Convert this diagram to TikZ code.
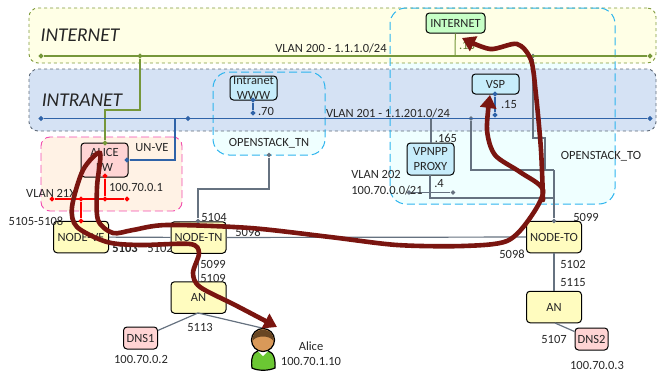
\documentclass[tikz,border=0pt]{standalone}
\usepackage{fontspec}
\setmainfont{Carlito}
\usetikzlibrary{arrows.meta,shapes.geometric}
\definecolor{netfill}{HTML}{FFFFE6}
\definecolor{netline}{HTML}{7F9A3B}
\definecolor{lanfill}{HTML}{D5E2F4}
\definecolor{lanline}{HTML}{5F6B7A}
\definecolor{vlangreen}{HTML}{76973A}
\definecolor{vlanblue}{HTML}{2F63A8}
\definecolor{linkgray}{HTML}{667280}
\definecolor{osline}{HTML}{2DB4EE}
\definecolor{osfill}{HTML}{EFFFFF}
\definecolor{flowred}{HTML}{7A1510}
\tikzset{
  zone/.style = {draw, dashed, line width = 0.9pt, rounded corners = 9pt, inner sep = 0},
  osfront/.style = {draw = osline, dash pattern = on 8pt off 4pt, line width = 1pt, rounded corners = 16pt, inner sep = 0},
  osback/.style = {fill = osfill, rounded corners = 16pt, inner sep = 0},
  box/.style = {draw, line width = 1pt, rounded corners = 3.5pt, align = center, inner sep = 0, text = black!85},
  yellowbox/.style = {box, fill = yellow!25, minimum width = 55pt, minimum height = 31.5pt},
  cyanbox/.style = {box, fill = cyan!22},
  pinkbox/.style = {box, fill = red!17},
  lbl/.style = {inner sep = 0, text = black!85, align = center},
  dot/.style = {diamond, fill, inner sep = 0, minimum size = 5.5pt},
  link/.style = {draw = linkgray, line width = 1.2pt},
  flow/.style = {draw = flowred, line width = 4.6pt, line cap = round},
  flowtip/.style = {flow, -{Triangle[length = 13pt, width = 16pt]}},
  flowboth/.style = {flow, {Triangle[length = 13pt, width = 16pt]}-{Triangle[length = 13pt, width = 16pt]}}
}
\begin{document}
\begin{tikzpicture}[x = 1pt, y = -1pt, font = \fontsize{12.5}{15}\selectfont]
\useasboundingbox (0,0) rectangle (657,372);
% zones
\node[osback, minimum width = 112pt, minimum height = 83pt](BackTn)at(269,113.5){};
\node[osback, minimum width = 225pt, minimum height = 196pt](BackTo)at(502.5,106){};
\node[zone, draw = netline, fill = netfill, minimum width = 627pt, minimum height = 55pt](ZoneNet)at(342.5,35.5){};
\node[zone, draw = lanline, fill = lanfill, minimum width = 627pt, minimum height = 62pt](ZoneLan)at(342.5,100){};
\node[zone, draw = magenta!70, fill = orange!10, dash pattern = on 8pt off 4pt, minimum width = 141pt, minimum height = 74pt](ZoneVe)at(111.5,174){};
\node[osfront, minimum width = 112pt, minimum height = 83pt](ZoneTn)at(269,113.5){};
\node[osfront, minimum width = 225pt, minimum height = 196pt](ZoneTo)at(502.5,106){};
\node[lbl, font = \fontsize{19.5}{21}\itshape](LNet)at(80,35){INTERNET};
\node[lbl, font = \fontsize{19.5}{21}\itshape](LLan)at(82,100){INTRANET};
% boxes
\node[pinkbox, minimum width = 47pt, minimum height = 34pt](Fw)at(104.5,160){ALICE\\FW};
\node[yellowbox](NVe)at(81,237){NODE-VE};
\node[yellowbox](NTn)at(198.5,237.5){NODE-TN};
\node[yellowbox](NTo)at(554,237){NODE-TO};
\node[yellowbox](An1)at(198.5,297.5){AN};
\node[yellowbox](An2)at(554,307){AN};
\node[pinkbox, minimum width = 34pt, minimum height = 22pt](Dns1)at(140.5,338){DNS1};
\node[pinkbox, minimum width = 33pt, minimum height = 22pt](Dns2)at(591.5,339){DNS2};
\node[box, fill = green!22, minimum width = 59pt, minimum height = 20pt](Inet)at(455.5,23){INTERNET};
\node[cyanbox, minimum width = 47pt, minimum height = 20pt](Vsp)at(495.5,84){VSP};
\node[cyanbox, minimum width = 47pt, minimum height = 32pt](Proxy)at(430.5,159){VPNPP\\PROXY};
\node[cyanbox, minimum width = 47pt, minimum height = 24pt](Www)at(253.5,88){Intranet\\WWW};
% dots
\foreach \name/\x/\y in {GA/41/56, GB/140/56, GC/650/56, GD/105/143}
  \node[dot, vlangreen](\name)at(\x,\y){};
\foreach \name/\x/\y in {BA/41/118.5, BB/188/118.5, BC/650/118.5, BD/127/160, BE/253/100, BF/253/113, BG/495/94, BH/495/115}
  \node[dot, vlanblue](\name)at(\x,\y){};
\foreach \name/\x/\y in {RA/52/199, RB/81/199, RC/105/199, RD/127/199, RE/105/176, RF/81/221}
  \node[dot, red](\name)at(\x,\y){};
\foreach \name/\x/\y in {KA/269/155, KB/198/221, KC/533/56, KD/471/118.5, KE/554/221, KF/409/192.5, KG/453/192.5}
  \node[dot, linkgray, minimum size = 5pt](\name)at(\x,\y){};
\coordinate(TnBend)at(269,189);
\coordinate(TnLeft)at(198,189);
\coordinate(GBend)at(140,110);
\coordinate(GLeft)at(105,110);
\coordinate(BBend)at(175,160);
\coordinate(BTop)at(175,118.5);
\coordinate(InetNet)at(455,56);
\coordinate(ProxyLan)at(431,118.5);
\coordinate(ProxyUp)at(431,143);
\coordinate(ProxyDown)at(430,175);
\coordinate(ProxyBend)at(430,198);
\coordinate(ToLow)at(554,198);
\coordinate(KdBend)at(471,170);
\coordinate(ToMid)at(554,170);
\coordinate(KcBend)at(533,138);
\coordinate(KcRight)at(545,138);
\coordinate(KcEnd)at(545,170);
\coordinate(An1Low)at(198,313);
\coordinate(An2Low)at(555,323);
\coordinate(MeTop)at(262,328);
% vlans
\draw[vlangreen, line width = 1.2pt](GA)--(GC);
\draw[vlangreen, line width = 1.2pt](GB)--(GBend)--(GLeft)--(GD);
\draw[vlangreen, line width = 1pt](Inet)--(InetNet);
\draw[vlanblue, line width = 1.2pt](BA)--(BC);
\draw[vlanblue, line width = 1.2pt](BTop)--(BBend)--(BD);
\draw[vlanblue, line width = 1.2pt](BE)--(BF);
\draw[vlanblue, line width = 1.2pt](BG)--(BH);
\draw[red, line width = 1.2pt](RA)--(RD);
\draw[red, line width = 1.2pt](RE)--(RC);
\draw[red, line width = 1.2pt](RB)--(RF);
% links
\draw[link](KA)--(TnBend)--(TnLeft)--(KB);
\draw[link](NVe)--(NTn);
\draw[link](NTn)--(NTo);
\draw[link](NTn)--(An1);
\draw[link](NTo)--(An2);
\draw[link](An1Low)--(Dns1);
\draw[link](An2Low)--(Dns2);
\draw[link](An1Low)--(MeTop);
\draw[link](ProxyLan)--(ProxyUp);
\draw[link](ProxyDown)--(ProxyBend)--(ToLow);
\draw[link](KF)--(KG);
\draw[link](KD)--(KdBend)--(ToMid);
\draw[link](KC)--(KcBend)--(KcRight)--(KcEnd);
\draw[link](ToMid)--(KE);
% alice
\draw[line width = 1.2pt, fill = green!45!olive!80](252,368)..controls(250,353)and(256,350)..(263,350)..controls(270,350)and(276,353)..(275,368)..controls(268,371)and(258,371)..(252,368)--cycle;
\fill[white](258,351)--(268,351)--(263,356)--cycle;
\draw[line width = 1.2pt, fill = brown!75!orange!80](263,340)circle(11.5);
\fill[brown!55!black](252.5,341)..controls(251,326)and(275,326)..(273.5,341)..controls(270,335)and(256,335)..(252.5,341)--cycle;
% labels
\node[lbl](T1)at(331,48){VLAN 200 - 1.1.1.0/24};
\node[lbl](T2)at(388,113){VLAN 201 - 1.1.201.0/24};
\node[lbl](T3)at(152,148){UN-VE};
\node[lbl](T4)at(269,143){OPENSTACK\_TN};
\node[lbl](T5)at(601,156){OPENSTACK\_TO};
\node[lbl](T6)at(266,111){.70};
\node[lbl](T7)at(509,105){.15};
\node[lbl, text = vlangreen!80!black](T8)at(467,45){.13};
\node[lbl](T9)at(446,138){.165};
\node[lbl](T10)at(439,184){.4};
\node[lbl](T11)at(376,174){VLAN 202};
\node[lbl](T12)at(387,190){100.70.0.0/21};
\node[lbl](T13)at(136,187){100.70.0.1};
\node[lbl](T14)at(51,193){VLAN 21X};
\node[lbl](T15)at(36,221){5105-5108};
\node[lbl, font = \fontsize{12.5}{15}\bfseries](T16)at(125,248){5103};
\node[lbl](T17)at(160,248){5102};
\node[lbl](T18)at(214,217){5104};
\node[lbl](T19)at(248,232){5098};
\node[lbl](T20)at(213,264){5099};
\node[lbl](T21)at(213,278){5109};
\node[lbl](T22)at(200,327){5113};
\node[lbl](T23)at(141,359){100.70.0.2};
\node[lbl](T24)at(311,346){Alice};
\node[lbl](T25)at(311,361){100.70.1.10};
\node[lbl](T26)at(586,217){5099};
\node[lbl](T27)at(512,254){5098};
\node[lbl](T28)at(573,264){5102};
\node[lbl](T29)at(573,283){5115};
\node[lbl](T30)at(554,339){5107};
\node[lbl](T31)at(597,365){100.70.0.3};
% flows
\draw[flowboth] plot[smooth, tension = 0.5] coordinates {(277,327)(235,305)(200,287)(193,273)(199,253)(190,244)(140,245)(107,242)(77,227)(72,207)(83,170)(100,153)(97,187)(98,220)(113,233)(133,230)(167,225)(250,228)(330,237)(397,245)(463,246)(507,241)(530,218)(543,190)(520,172)(495,155)(487,130)(490,95)};
\draw[flowtip] plot[smooth, tension = 0.5] coordinates {(543,200)(541,150)(536,95)(531,60)(517,44)(490,49)(462,38)};
\end{tikzpicture}
\end{document}
